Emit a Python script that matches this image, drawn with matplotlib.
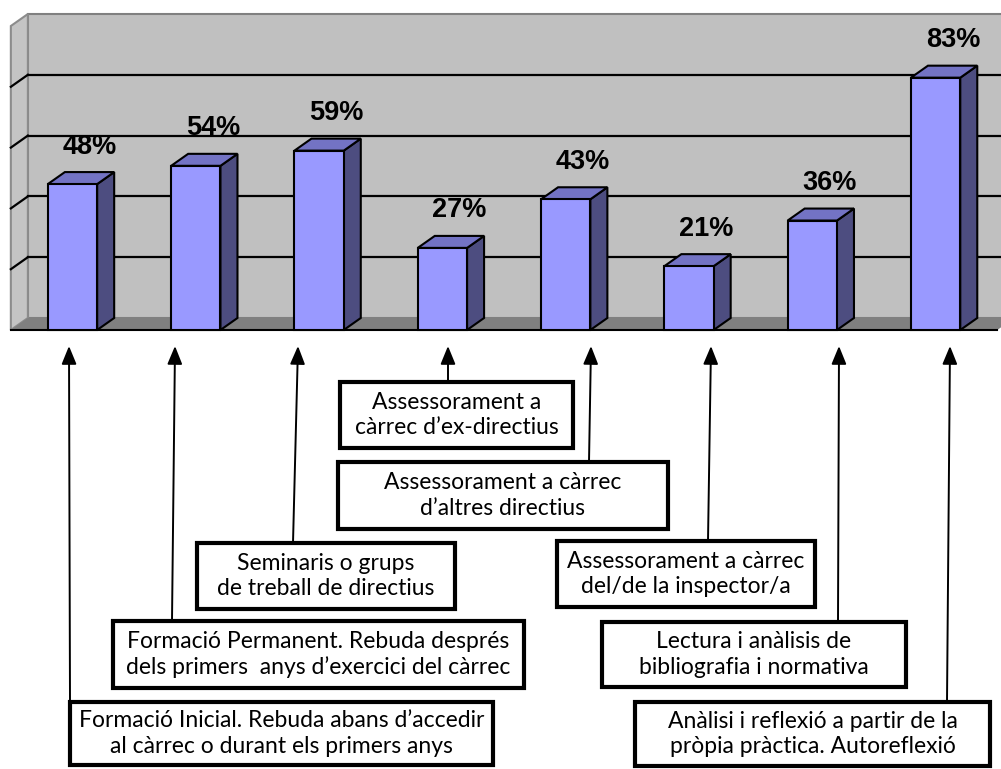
import numpy as np
import matplotlib.pyplot as plt
from matplotlib.patches import Rectangle, Polygon

#data (percent of answers per training type)
categories = ['Formació Inicial', 'Formació Permanent', 'Seminaris',
              'Ex-directius', 'Altres directius', 'Inspector/a',
              'Lectura', 'Autoreflexió']
values = [48, 54, 59, 27, 43, 21, 36, 83]
value_labels = ['48%', '54%', '59%', '27%', '43%', '21%', '36%', '83%']
grid_values = [20, 40, 60, 80]

#texts of the boxes below the chart, in the same order as the bars
box_texts = ['Formació Inicial. Rebuda abans d’accedir\nal càrrec o durant els primers anys',
             'Formació Permanent. Rebuda després\ndels primers  anys d’exercici del càrrec',
             'Seminaris o grups\nde treball de directius',
             'Assessorament a\ncàrrec d’ex-directius',
             'Assessorament a càrrec\nd’altres directius',
             'Assessorament a càrrec\ndel/de la inspector/a',
             'Lectura i anàlisis de\nbibliografia i normativa',
             'Anàlisi i reflexió a partir de la\npròpia pràctica. Autoreflexió']

#layout of the boxes in pixels (left, top, right, bottom) and the arrows
#(x at box, x at tip)
W, H = 1001, 769
box_px = [(70, 702, 493, 765), (113, 621, 524, 688), (197, 543, 455, 609),
          (340, 382, 573, 448), (338, 462, 668, 529), (557, 541, 815, 607),
          (602, 622, 906, 687), (635, 702, 990, 766)]
arrow_px = [(70, 69), (172, 175), (293, 298), (448, 448), (589, 591),
            (708, 711), (838, 839), (947, 950)]
arrow_tip_y = 346

#3d look: bar width, depth offset and the walls extent (data units)
bar_w = 0.4
dx, dy = 0.138, 3.95
x0, x1 = -0.5, 7.5

front = '#9999FF'
top_c = '#7373C4'
side_c = '#4D4D80'


def px2ax(x, y):
    return x / W, 1 - y / H


fig = plt.figure(figsize=(10.01, 7.69), dpi=100)
ax = fig.add_axes([0, 0, 1, 1])
ax.set_xlim(-72.5 / 123.3, (W - 72.5) / 123.3)
ax.set_ylim((330 - H) / 3.04, 330 / 3.04)
ax.axis('off')

#back wall, left wall and floor
ax.add_patch(Rectangle((x0 + dx, dy), x1 - x0, 100, fc='#C0C0C0',
                       ec='#808080', lw=1.5, zorder=1))
ax.add_patch(Polygon([(x0, 0), (x0 + dx, dy), (x0 + dx, 100 + dy), (x0, 100)],
                     closed=True, fc='#C4C4C4', ec='#8C8C8C', lw=1.5, zorder=1))
ax.add_patch(Polygon([(x0, 0), (x1, 0), (x1 + dx, dy), (x0 + dx, dy)],
                     closed=True, fc='#808080', ec='none', zorder=2))
ax.plot([x0, x1], [0, 0], color='black', lw=1.5, zorder=2)

#gridlines on the back wall and on the side wall
for g in grid_values:
    ax.plot([x0 + dx, x1 + dx], [g + dy, g + dy], color='black', lw=1.6, zorder=2)
    ax.plot([x0, x0 + dx], [g, g + dy], color='black', lw=1.6, zorder=2)

#bars drawn as front face + top + side
for i, v in enumerate(values):
    l, r = i - bar_w / 2, i + bar_w / 2
    ax.add_patch(Polygon([(r, 0), (r + dx, dy), (r + dx, v + dy), (r, v)],
                         closed=True, fc=side_c, ec='black', lw=1.5, zorder=3))
    ax.add_patch(Polygon([(l, v), (r, v), (r + dx, v + dy), (l + dx, v + dy)],
                         closed=True, fc=top_c, ec='black', lw=1.5, zorder=3))
    ax.add_patch(Rectangle((l, 0), bar_w, v, fc=front, ec='black', lw=1.5,
                           zorder=4))
    ax.text(i + 0.14, v + dy + 8.4, value_labels[i], ha='center', va='center',
            fontsize=19.5, fontweight='bold', family='Liberation Sans', zorder=5)

#boxes with the arrows going up to the bars
for i, t in enumerate(box_texts):
    l, tp, r, b = box_px[i]
    xa, ya = px2ax(l, b)
    xb, yb = px2ax(r, tp)
    ax.add_patch(Rectangle((xa, ya), xb - xa, yb - ya, transform=ax.transAxes,
                           fc='white', ec='black', lw=3, zorder=6))
    ax.text((xa + xb) / 2, (ya + yb) / 2, t, transform=ax.transAxes,
            ha='center', va='center', fontsize=16.5, family='Lato',
            linespacing=1.25, zorder=7)
    xs, xt = arrow_px[i]
    ax.annotate('', xy=px2ax(xt, arrow_tip_y), xycoords='axes fraction',
                xytext=px2ax(xs, tp), textcoords='axes fraction',
                arrowprops=dict(arrowstyle='-|>,head_length=1.1,head_width=0.45',
                                color='black', lw=1.4, shrinkA=0, shrinkB=0),
                zorder=5)

plt.savefig('out.png', dpi=100)
